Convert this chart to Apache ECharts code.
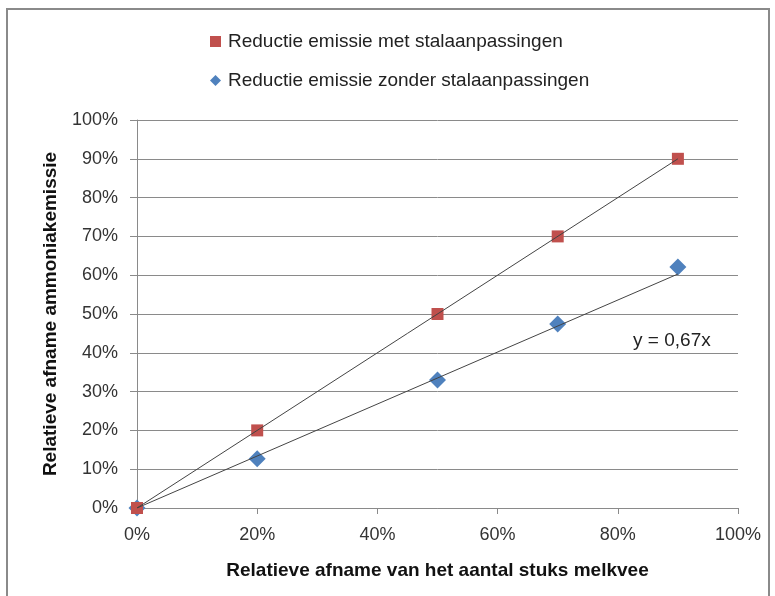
<!DOCTYPE html>
<html><head><meta charset="utf-8">
<script src="https://cdn.jsdelivr.net/npm/echarts@6/dist/echarts.min.js"></script>
<style>html,body{margin:0;padding:0;background:#fff}#c{width:775px;height:596px}</style>
</head><body><div id="c"></div>
<script>
const xValues = [0, 0.2, 0.5, 0.7, 0.9];
const metValues = [0, 0.2, 0.5, 0.7, 0.9];
const zonderValues = [0, 0.127, 0.33, 0.474, 0.621];
const metSlope = 1.0;
const zonderSlope = 0.67;
const trendX = [0, 0.9];
const seriesNames = ['Reductie emissie met stalaanpassingen', 'Reductie emissie zonder stalaanpassingen'];
const xTitle = 'Relatieve afname van het aantal stuks melkvee';
const yTitle = 'Relatieve afname ammoniakemissie';
const trendLabel = 'y = 0,67x';
const trendLabelAt = [0.89, 0.43];

const font = 'Liberation Sans';
const pct = v => Math.round(v * 100) + '%';
const chart = echarts.init(document.getElementById('c'), null, {renderer: 'canvas'});
chart.setOption({
  animation: false,
  backgroundColor: '#fff',
  graphic: [{type: 'rect', shape: {x: 7, y: 9, width: 762, height: 600}, style: {fill: 'none', stroke: '#8a8a8a', lineWidth: 2}, z: -1}],
  legend: {
    orient: 'vertical', left: 205, top: 27, itemGap: 20, itemWidth: 11, itemHeight: 11,
    textStyle: {fontFamily: font, fontSize: 19, color: '#222', padding: [0, 0, 0, 2]},
    data: [{name: seriesNames[0], icon: 'rect'}, {name: seriesNames[1], icon: 'diamond'}]
  },
  grid: {left: 137, right: 37, top: 120, bottom: 88},
  xAxis: {
    type: 'value', min: 0, max: 1, interval: 0.2,
    name: xTitle, nameLocation: 'middle', nameGap: 53,
    nameTextStyle: {fontFamily: font, fontSize: 19, fontWeight: 'bold', color: '#111'},
    axisLine: {show: true, lineStyle: {color: '#8a8a8a', width: 1}},
    axisTick: {show: true, length: 6, lineStyle: {color: '#8a8a8a'}},
    axisLabel: {formatter: pct, fontFamily: font, fontSize: 18, color: '#333', margin: 18},
    splitLine: {show: false}
  },
  yAxis: {
    type: 'value', min: 0, max: 1, interval: 0.1,
    name: yTitle, nameLocation: 'middle', nameGap: 77, nameRotate: 90,
    nameTextStyle: {fontFamily: font, fontSize: 19, fontWeight: 'bold', color: '#111'},
    axisLine: {show: true, lineStyle: {color: '#8a8a8a', width: 1}},
    axisTick: {show: true, length: 7, lineStyle: {color: '#8a8a8a'}},
    axisLabel: {formatter: pct, fontFamily: font, fontSize: 18, color: '#333', margin: 19},
    splitLine: {show: true, lineStyle: {color: '#8a8a8a', width: 1}}
  },
  series: [
    {name: 'trend1', type: 'line', data: trendX.map(x => [x, x * metSlope]), symbol: 'none', lineStyle: {color: '#444', width: 1}, z: 5, silent: true},
    {name: 'trend2', type: 'line', data: trendX.map(x => [x, x * zonderSlope]), symbol: 'none', lineStyle: {color: '#444', width: 1}, z: 5, silent: true,
      markPoint: {symbol: 'circle', symbolSize: 1, itemStyle: {color: 'rgba(0,0,0,0)'}, silent: true,
        label: {show: true, formatter: trendLabel, fontFamily: font, fontSize: 19, color: '#222', position: 'inside'},
        data: [{coord: trendLabelAt}]}},
    {name: seriesNames[1], type: 'scatter', symbol: 'diamond', symbolSize: 17, itemStyle: {color: '#4F81BD', opacity: 1}, data: xValues.map((x, i) => [x, zonderValues[i]]), z: 2},
    {name: seriesNames[0], type: 'scatter', symbol: 'rect', symbolSize: 12, itemStyle: {color: '#C0504D', opacity: 1}, data: xValues.map((x, i) => [x, metValues[i]]), z: 3}
  ]
});
</script></body></html>
